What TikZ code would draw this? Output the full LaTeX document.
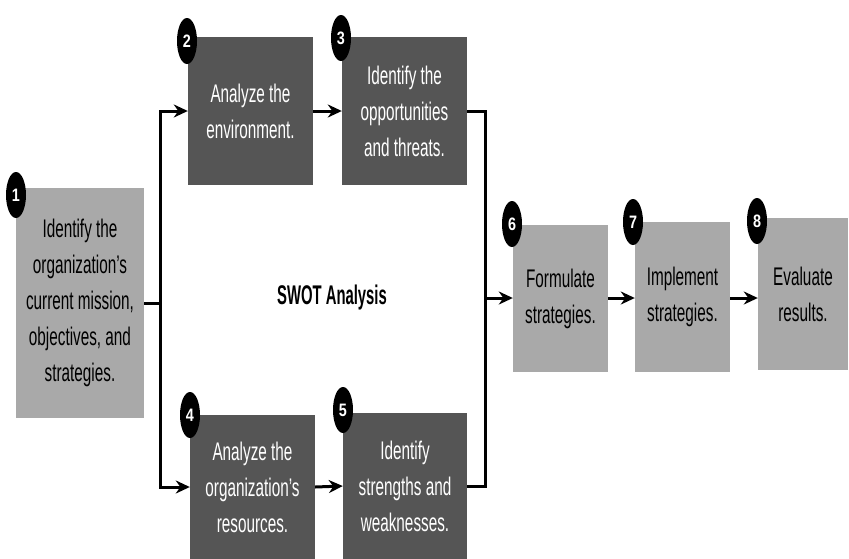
\documentclass[tikz,border=0pt]{standalone}
\usepackage{fontspec}
\setmainfont{Liberation Sans}[FakeStretch=0.6]
\newfontfamily\swotfont{Liberation Sans}[FakeStretch=0.55]
\newfontfamily\badgefont{Liberation Sans}[FakeStretch=0.8]
\usetikzlibrary{shapes.geometric,arrows.meta}
\definecolor{lightbox}{HTML}{A9A9A9}
\definecolor{darkbox}{HTML}{555555}
\tikzset{
  box/.style={rectangle, inner sep=0pt, align=center,
    font=\fontsize{25.5}{36}\selectfont},
  lightstep/.style={box, fill=lightbox, text=black},
  darkstep/.style={box, fill=darkbox, text=white},
  badge/.style={ellipse, fill=black, text=white, inner sep=0pt,
    minimum width=20pt, minimum height=46pt,
    font=\badgefont\bfseries\fontsize{18}{18}\selectfont},
  conn/.style={line width=3pt, black},
  arr/.style={conn, -{Stealth[length=14pt,width=13pt]}},
}
\begin{document}
\begin{tikzpicture}[x=1pt,y=-1pt]
\useasboundingbox (0,0) rectangle (849,558);
% boxes
\node[lightstep, minimum width=128pt, minimum height=230pt] (b1) at (80,303)
  {Identify the\\organization's\\current mission,\\objectives, and\\strategies.};
\node[darkstep, minimum width=125pt, minimum height=148pt] (b2) at (250.5,111)
  {Analyze the\\environment.};
\node[darkstep, minimum width=125pt, minimum height=148pt] (b3) at (404.5,111)
  {Identify the\\opportunities\\and threats.};
\node[darkstep, minimum width=125pt, minimum height=144pt] (b4) at (252.5,487)
  {Analyze the\\organization's\\resources.};
\node[darkstep, minimum width=124pt, minimum height=146pt] (b5) at (405,486)
  {Identify\\strengths and\\weaknesses.};
\node[lightstep, minimum width=95pt, minimum height=147pt] (b6) at (560.5,298.5)
  {Formulate\\strategies.};
\node[lightstep, minimum width=95pt, minimum height=150pt] (b7) at (682.5,297)
  {Implement\\strategies.};
\node[lightstep, minimum width=90pt, minimum height=152pt] (b8) at (803,294)
  {Evaluate\\results.};
% badges
\node[badge] (n1) at (16,195) {1};
\node[badge] (n2) at (187,41) {2};
\node[badge] (n3) at (341,38) {3};
\node[badge] (n4) at (190,415) {4};
\node[badge] (n5) at (343,410) {5};
\node[badge] (n6) at (512,224) {6};
\node[badge] (n7) at (633,222) {7};
\node[badge] (n8) at (757,221) {8};
% label
\node[font=\swotfont\bfseries\fontsize{27}{27}\selectfont] (swot) at (332,298) {SWOT Analysis};
% connectors
\coordinate (jl) at (160,303);
\coordinate (jr) at (485,298);
\draw[conn] (b1.east) -- (jl);
\draw[arr] (jl) |- (b2.west);
\draw[arr] (jl) |- (b4.west);
\draw[arr] (b2.east) -- (b3.west);
\draw[arr] (b4.east) -- (b5.west);
\draw[conn] (b3.east) -| (jr);
\draw[conn] (b5.east) -| (jr);
\draw[arr] (jr) -- (b6.west |- jr);
\draw[arr] (b6.east |- jr) -- (b7.west |- jr);
\draw[arr] (b7.east |- jr) -- (b8.west |- jr);
\end{tikzpicture}
\end{document}
